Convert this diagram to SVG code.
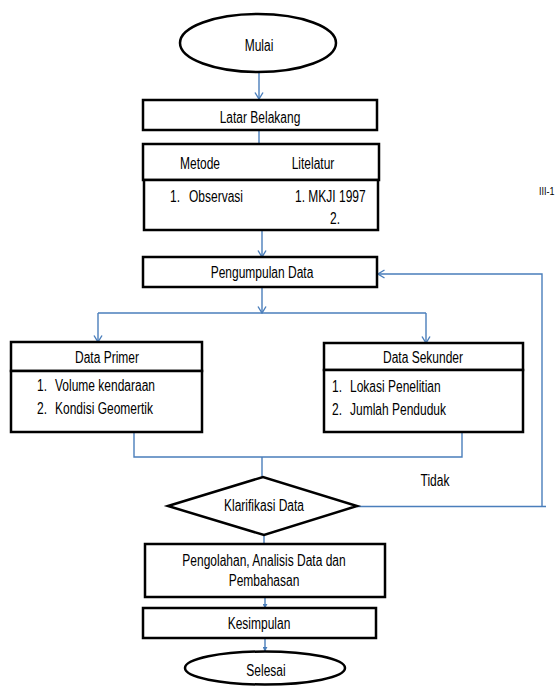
<svg xmlns="http://www.w3.org/2000/svg" width="555" height="686" viewBox="0 0 555 686">
<style>
.n{fill:#fff;stroke:#000;stroke-width:2.5}
.c{fill:none;stroke:#4a7ebb;stroke-width:1.4}
text{font-family:"Liberation Sans",Arial,sans-serif;font-size:12px;fill:#000}
.m{text-anchor:middle}
</style>
<defs>
<marker id="v" viewBox="0 0 8 10" refX="7" refY="5" markerWidth="8" markerHeight="10" markerUnits="userSpaceOnUse" orient="auto">
<path d="M0.5,1 L7,5 L0.5,9" fill="none" stroke="#4a7ebb" stroke-width="1.4"/>
</marker>
<marker id="f" viewBox="0 0 6 6" refX="5" refY="3" markerWidth="5" markerHeight="5" markerUnits="userSpaceOnUse" orient="auto">
<path d="M0,0 L6,3 L0,6 Z" fill="#4a7ebb"/>
</marker>
</defs>
<g id="connectors">
<path class="c" d="M259,72 V99" marker-end="url(#v)"/>
<path class="c" d="M259,130 V156" marker-end="url(#v)"/>
<path class="c" d="M262,180 V257" marker-end="url(#v)"/>
<path class="c" d="M262,287 V313" marker-end="url(#v)"/>
<path class="c" d="M98,313 H426"/>
<path class="c" d="M98,313 V342" marker-end="url(#v)"/>
<path class="c" d="M426,313 V343" marker-end="url(#v)"/>
<path class="c" d="M134,432 V457 H462 V432"/>
<path class="c" d="M262,457 V477"/>
<path class="c" d="M357,506.5 H546"/>
<path class="c" d="M542,506.5 V274 H378" marker-end="url(#v)"/>
<path class="c" d="M264,535 V544"/>
<path class="c" d="M265,597 V608" marker-end="url(#f)"/>
<path class="c" d="M265,638 V651" marker-end="url(#f)"/>
</g>
<g id="mulai">
<ellipse class="n" cx="258" cy="43" rx="78" ry="29"/>
<text class="m" transform="translate(259 51) scale(1 1.3)">Mulai</text>
</g>
<g id="latar">
<rect class="n" x="143" y="100" width="234" height="30"/>
<text class="m" transform="translate(260 123) scale(1 1.3)">Latar Belakang</text>
</g>
<g id="metode">
<rect class="n" x="143" y="144" width="236" height="36"/>
<rect class="n" x="144" y="180" width="234" height="50"/>
<text class="m" transform="translate(200 169) scale(1 1.3)">Metode</text>
<text class="m" transform="translate(313 169) scale(1 1.3)">Litelatur</text>
<text transform="translate(170 202) scale(1 1.3)"><tspan x="0">1.</tspan><tspan x="19">Observasi</tspan></text>
<text transform="translate(295 202) scale(1 1.3)">1. MKJI 1997</text>
<text transform="translate(330 224) scale(1 1.3)">2.</text>
</g>
<g id="pengumpulan">
<rect class="n" x="143" y="257" width="234" height="30"/>
<text class="m" transform="translate(262 278) scale(1 1.3)">Pengumpulan Data</text>
</g>
<g id="primer">
<rect class="n" x="11" y="342" width="191" height="29"/>
<rect class="n" x="11" y="371" width="191" height="61"/>
<text class="m" transform="translate(107 363) scale(1 1.3)">Data Primer</text>
<text transform="translate(37 391) scale(1 1.3)"><tspan x="0">1.</tspan><tspan x="18">Volume kendaraan</tspan></text>
<text transform="translate(37 414) scale(1 1.3)"><tspan x="0">2.</tspan><tspan x="18">Kondisi Geomertik</tspan></text>
</g>
<g id="sekunder">
<rect class="n" x="324" y="343" width="199" height="27"/>
<rect class="n" x="324" y="370" width="199" height="62"/>
<text class="m" transform="translate(423 363) scale(1 1.3)">Data Sekunder</text>
<text transform="translate(332 392) scale(1 1.3)"><tspan x="0">1.</tspan><tspan x="18">Lokasi Penelitian</tspan></text>
<text transform="translate(332 415) scale(1 1.3)"><tspan x="0">2.</tspan><tspan x="18">Jumlah Penduduk</tspan></text>
</g>
<g id="klarifikasi">
<polygon class="n" points="168,506 263,477 357,506 264,535"/>
<text class="m" transform="translate(264 511) scale(1 1.3)">Klarifikasi Data</text>
</g>
<g id="tidak">
<text class="m" transform="translate(435 486) scale(1 1.3)">Tidak</text>
</g>
<g id="pengolahan">
<rect class="n" x="145" y="544" width="240" height="53"/>
<text class="m" transform="translate(264 566) scale(1 1.3)">Pengolahan, Analisis Data dan</text>
<text class="m" transform="translate(264 586) scale(1 1.3)">Pembahasan</text>
</g>
<g id="kesimpulan">
<rect class="n" x="143" y="608" width="233" height="30"/>
<text class="m" transform="translate(259 629) scale(1 1.3)">Kesimpulan</text>
</g>
<g id="selesai">
<ellipse class="n" cx="265" cy="668" rx="80" ry="16.5"/>
<text class="m" transform="translate(266 676) scale(1 1.3)">Selesai</text>
</g>
<g id="page">
<text transform="translate(539 195) scale(1 1.3)" style="font-size:9px">III-1</text>
</g>
</svg>
